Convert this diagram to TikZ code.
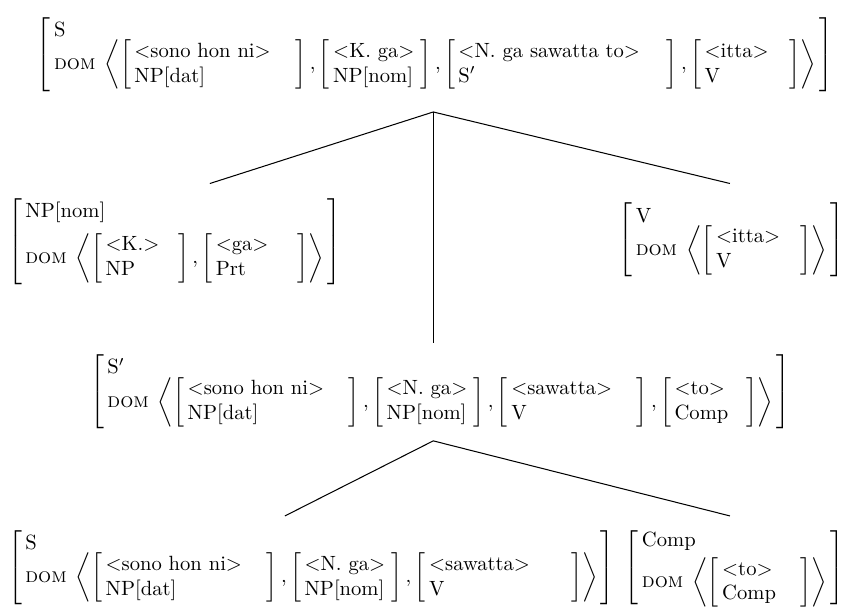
\documentclass[tikz,border=0pt]{standalone}
\usepackage{amsmath}
\usepackage{tikz}
\usetikzlibrary{positioning,calc}

% inner sign: phonology over category (optional arg = space before the closing bracket)
\newcommand{\signbox}[3][1em]{\left[\begin{array}{@{\,}l@{\hspace{#1}}}\text{#2}\\ \text{#3}\end{array}\right]}
% phrase with its domain list (optional arg = extra row gap)
\newcommand{\phrasebox}[3][-2pt]{$\left[\begin{array}{@{\,}l@{\,}}\text{#2}\\[#1] \text{\textsc{dom}}\;\left\langle #3 \right\rangle\end{array}\right]$}
\newcommand{\phon}[1]{$<$#1$>$}

\begin{document}
\begin{tikzpicture}[avm/.style={inner sep=0pt, outer sep=0pt}, branch/.style={line width=0.5pt}]
            \useasboundingbox (0,0) rectangle (14.43,10.42);

            % top: S
            \node[avm, anchor=west] (top) at (0.63,9.49) {\phrasebox{S}{\signbox[12pt]{\phon{sono hon ni}}{NP[dat]},
                \signbox[3pt]{\phon{K. ga}}{NP[nom]},
                \signbox[13pt]{\phon{N. ga sawatta to}}{S$'$},
                \signbox[10pt]{\phon{itta}}{V}}};

            % daughters of S
            \node[avm, anchor=west] (npnom) at (0.14,6.30) {\phrasebox[4pt]{NP[nom]}{\signbox[9pt]{\phon{K.}}{NP},
                \signbox[14pt]{\phon{ga}}{Prt}}};
            \node[avm, anchor=east] (vhead) at (14.40,6.33) {\phrasebox{V}{\signbox[10pt]{\phon{itta}}{V}}};
            \node[avm, anchor=west] (sbar) at (1.54,3.74) {\phrasebox{S$'$}{\signbox[12pt]{\phon{sono hon ni}}{NP[dat]},
                \signbox[3pt]{\phon{N. ga}}{NP[nom]},
                \signbox[12pt]{\phon{sawatta}}{V},
                \signbox[9pt]{\phon{to}}{Comp}}};

            % daughters of S'
            \node[avm, anchor=west] (slow) at (0.14,0.74) {\phrasebox{S}{\signbox[12pt]{\phon{sono hon ni}}{NP[dat]},
                \signbox[3pt]{\phon{N. ga}}{NP[nom]},
                \signbox[20pt]{\phon{sawatta}}{V}}};
            \node[avm, anchor=east] (comp) at (14.40,0.73) {\phrasebox[2pt]{Comp}{\signbox[12pt]{\phon{to}}{Comp}}};

            % branch points
            \coordinate (apexA) at (7.39,8.51);
            \coordinate (apexB) at (7.39,2.90);
            \coordinate (endNP) at (3.58,7.29);
            \coordinate (endV) at (12.45,7.29);
            \coordinate (endSb) at (7.39,4.57);
            \coordinate (endS) at (4.86,1.62);
            \coordinate (endC) at (12.45,1.62);

            \draw[branch] (endNP) -- (apexA) -- (endV);
            \draw[branch] (apexA) -- (endSb);
            \draw[branch] (endS) -- (apexB) -- (endC);
        \end{tikzpicture}
\end{document}
